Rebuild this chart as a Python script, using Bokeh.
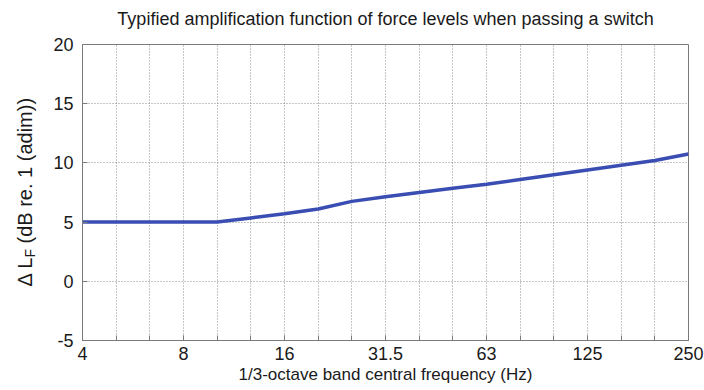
import math
from bokeh.plotting import figure
from bokeh.layouts import row, column
from bokeh.models import FixedTicker, Label, Range1d
from bokeh.embed import file_html
from bokeh.resources import INLINE

# 1/3-octave band centre frequencies (Hz)
bands = ["4", "5", "6.3", "8", "10", "12.5", "16", "20", "25", "31.5",
         "40", "50", "63", "80", "100", "125", "160", "200", "250"]
# amplification Delta L_F (dB re. 1)
amplification = [5.0, 5.0, 5.0, 5.0, 5.0, 5.35, 5.7, 6.1, 6.75, 7.15,
                 7.5, 7.85, 8.2, 8.6, 9.0, 9.4, 9.8, 10.2, 10.75]
labelled_bands = ["4", "8", "16", "31.5", "63", "125", "250"]
y_ticks = [-5, 0, 5, 10, 15, 20]
y_tick_labels = ["-5", "0", "5", "10", "15", "20"]
title_text = "Typified amplification function of force levels when passing a switch"

FONT = "Liberation Sans"
TXT = "#1a1a1a"
FRAME = "#7a7a7a"

TH = 32          # height of the title strip
H = 390 - TH
LW = 44          # width of the strip holding the y-axis title
W = 704 - LW
idx = list(range(len(bands)))


def blank(width, height, **kw):
    f = figure(width=width, height=height, output_backend="svg", toolbar_location=None,
               x_range=Range1d(0, 1), y_range=Range1d(0, 1),
               min_border=0, min_border_left=0, min_border_right=0,
               min_border_top=0, min_border_bottom=0, **kw)
    f.grid.visible = False
    f.outline_line_color = None
    f.background_fill_color = "white"
    f.border_fill_color = "white"
    return f


# ---- title strip ----
top = blank(704, TH, x_axis_location=None, y_axis_location=None)
top.add_layout(Label(x=385, y=14, x_units="screen", y_units="screen", text=title_text,
                     text_font=FONT, text_font_size="18px", text_color=TXT,
                     text_align="center", text_baseline="middle"))

# ---- strip with the rotated y-axis title (with subscript) ----
side = blank(LW, H)
side.axis.visible = False
common = dict(x_units="screen", y_units="screen", angle=math.pi / 2,
              text_font=FONT, text_color=TXT, text_baseline="middle", text_align="left")
side.add_layout(Label(x=24, y=54, text="\u0394 L", text_font_size="20px", **common))
side.add_layout(Label(x=29, y=83, text="F", text_font_size="14px", **common))
side.add_layout(Label(x=24, y=97, text="(dB re. 1 (adim))", text_font_size="20px", **common))

# ---- main chart ----
p = figure(width=W, height=H, output_backend="svg", toolbar_location=None,
           x_range=Range1d(0, len(bands) - 1), y_range=Range1d(y_ticks[0], y_ticks[-1]),
           min_border_left=82 - LW, min_border_right=16, min_border_top=44 - TH,
           min_border_bottom=50)

p.outline_line_color = FRAME
p.outline_line_width = 1
p.background_fill_color = "white"
p.border_fill_color = "white"

# x axis
p.xaxis.ticker = FixedTicker(ticks=[bands.index(b) for b in labelled_bands], minor_ticks=idx)
p.xaxis.major_label_overrides = {bands.index(b): b for b in labelled_bands}
p.xaxis.axis_label = "1/3-octave band central frequency (Hz)"
p.xaxis.axis_label_text_font = FONT
p.xaxis.axis_label_text_font_size = "17px"
p.xaxis.axis_label_text_font_style = "normal"
p.xaxis.axis_label_text_color = TXT
p.xaxis.axis_label_standoff = 2
p.xaxis.major_label_standoff = 6

# y axis
p.yaxis.ticker = FixedTicker(ticks=y_ticks, minor_ticks=[])
p.yaxis.major_label_overrides = dict(zip(y_ticks, y_tick_labels))
p.yaxis.major_label_standoff = 9

for ax in (p.xaxis, p.yaxis):
    ax.major_label_text_font = FONT
    ax.major_label_text_font_size = "18px"
    ax.major_label_text_color = TXT
    ax.axis_line_color = FRAME
    ax.major_tick_line_color = FRAME
    ax.minor_tick_line_color = FRAME
    ax.major_tick_in = 5
    ax.major_tick_out = 0
    ax.minor_tick_in = 5
    ax.minor_tick_out = 0

# grids
p.xgrid.ticker = FixedTicker(ticks=idx)
p.ygrid.ticker = FixedTicker(ticks=y_ticks)
for g in (p.xgrid, p.ygrid):
    g.grid_line_color = "#8c8c8c"
    g.grid_line_dash = "1 2"
    g.grid_line_width = 1
    g.grid_line_alpha = 1.0

p.line(idx, amplification, line_color="#3a4db3", line_width=3.5)

layout = column(top, row(side, p))
open("out.html", "w").write(file_html(layout, INLINE))
